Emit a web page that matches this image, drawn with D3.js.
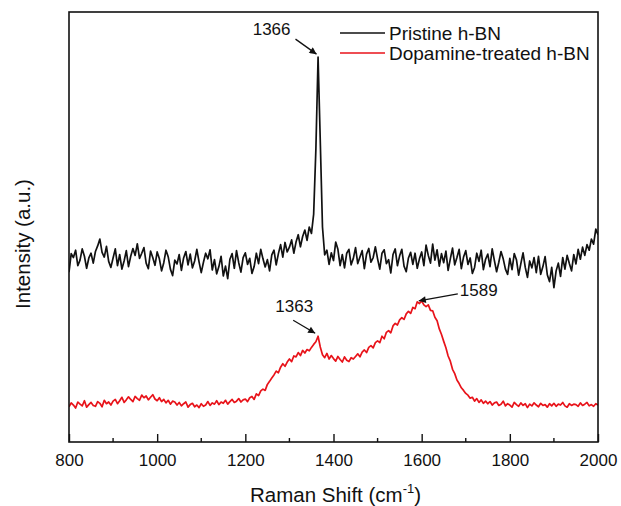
<!DOCTYPE html>
<html><head><meta charset="utf-8">
<script src="https://cdn.jsdelivr.net/npm/d3@7"></script>
<style>
html,body{margin:0;padding:0;background:#fff;}
svg text{font-family:Arial,"Liberation Sans",sans-serif;fill:#111;}
</style></head>
<body><svg id="c" width="621" height="506"></svg>
<script>
// Raman shift grid (cm^-1), every 5 cm^-1 from 800 to 2000
const shiftStart = 800, shiftStep = 5;
const xTicks = [800, 1000, 1200, 1400, 1600, 1800, 2000];
const xMinorTicks = [900, 1100, 1300, 1500, 1700, 1900];
const seriesNames = ["Pristine h-BN", "Dopamine-treated h-BN"];
const seriesColors = ["#111111", "#e8131a"];

const pristine = [
39.5,43.8,42.9,44.6,41.0,42.3,44.9,43.2,40.4,42.8,
43.9,41.6,44.3,45.6,47.2,44.1,43.0,45.5,42.0,40.6,
42.8,44.9,41.0,43.6,40.2,42.1,44.5,40.8,43.2,45.0,
43.4,46.1,42.7,43.9,45.2,41.6,40.3,44.4,42.9,41.1,
44.2,42.6,39.8,41.7,44.6,43.1,40.2,38.7,42.3,41.4,
43.6,39.9,42.8,44.3,41.2,43.7,40.5,42.1,44.8,41.9,
39.4,41.8,43.9,42.6,44.7,40.0,42.4,39.1,40.8,43.2,
38.6,40.9,38.0,42.5,43.8,40.4,44.5,41.7,39.5,42.9,
44.0,41.3,42.7,39.2,40.8,43.9,41.5,44.8,42.6,40.7,
42.4,39.8,43.5,44.6,41.2,43.8,45.9,43.0,46.4,44.2,
45.3,47.0,43.9,46.5,48.2,45.4,47.8,49.3,46.9,50.0,
48.5,53.0,68.0,89.5,70.0,50.0,43.5,44.6,41.3,44.0,
42.2,46.5,44.8,41.0,43.6,40.5,43.9,44.8,41.2,42.7,
45.2,41.5,43.0,44.5,40.3,43.7,45.0,41.8,42.9,45.4,
42.6,40.2,43.9,44.7,41.5,42.4,39.3,43.6,44.9,41.0,
43.3,44.8,40.9,39.6,42.8,44.1,41.3,43.9,40.4,42.6,
44.2,41.0,45.8,43.4,41.6,46.0,42.3,44.7,40.9,43.8,
41.7,44.4,39.9,42.6,45.1,41.2,42.9,44.8,40.3,43.0,
44.5,41.3,42.8,39.2,40.6,43.9,42.0,44.6,40.1,42.5,
43.7,40.8,44.9,42.2,39.6,41.8,44.3,42.6,40.2,39.0,
42.7,40.1,43.8,42.4,38.8,41.5,44.0,40.6,38.3,42.1,
40.5,42.9,39.4,43.2,39.0,40.8,43.1,38.9,37.3,40.6,
35.9,39.8,41.6,38.5,42.9,40.2,43.4,41.5,39.8,43.6,
41.4,44.8,42.5,45.3,43.4,45.9,44.6,47.2,46.0,49.5,
48.2];

const dopamine = [
8.2,9.1,8.6,7.9,9.3,8.8,8.4,9.6,8.1,8.7,
9.2,8.5,8.3,9.4,9.0,8.2,9.7,8.9,9.3,8.6,
9.5,9.9,8.9,9.6,10.4,9.2,9.8,10.5,9.9,9.4,
10.6,10.1,9.7,10.9,10.3,10.7,9.8,10.4,11.0,10.0,
9.6,10.3,9.4,9.9,9.1,9.7,8.8,9.5,9.3,8.6,
9.2,8.4,8.9,9.3,8.1,8.7,9.0,8.2,8.6,8.0,
8.9,8.3,8.6,9.4,8.5,9.1,8.8,9.6,8.7,9.3,
9.0,9.7,8.8,9.4,9.9,9.2,9.5,10.1,9.3,9.8,
10.0,9.4,10.3,10.6,9.9,11.2,10.8,11.9,12.3,12.0,
13.4,14.1,14.9,15.6,16.5,16.1,17.4,18.2,17.6,18.6,
19.3,18.7,20.0,19.8,20.8,20.1,21.3,20.7,21.5,21.2,
22.0,22.7,23.3,24.6,22.1,20.3,19.6,20.6,19.3,20.1,
19.4,18.8,19.9,19.2,18.6,19.8,19.0,18.7,19.6,19.3,
19.9,20.5,19.8,20.9,21.4,20.8,22.0,22.4,21.9,23.1,
23.5,23.1,24.6,24.0,25.5,25.9,25.4,27.0,27.6,27.2,
28.4,28.9,28.5,29.8,30.4,29.9,31.3,31.0,32.6,32.2,
32.8,31.9,31.5,31.9,30.6,30.5,29.0,28.2,26.3,25.0,
23.4,21.9,20.0,18.8,16.9,15.9,14.4,13.6,12.6,12.0,
11.3,10.9,10.2,10.4,9.5,10.1,9.2,9.8,9.0,9.5,
8.9,9.4,8.6,9.1,9.3,8.5,8.8,9.5,8.4,8.9,
8.6,8.1,9.2,8.7,8.3,9.1,8.5,8.9,8.0,8.8,
8.4,9.1,8.6,8.2,9.0,8.5,8.7,8.1,8.9,8.4,
9.0,8.3,8.8,8.6,9.2,8.4,8.1,8.9,8.5,8.8,
8.7,8.3,9.1,8.5,8.8,9.2,8.4,8.7,8.3,8.9,
8.6];

// Peak annotations
const peakLabels = ["1366", "1363", "1589"];
const peakShifts = [1366, 1363, 1589];
const peakSeries = [0, 1, 1];

const svg = d3.select("#c");
const L = 69, R = 598, T = 12, B = 442;
const x = d3.scaleLinear().domain([800, 2000]).range([L, R]);
const y = d3.scaleLinear().domain([0, 100]).range([B, T]);

const defs = svg.append("defs");
defs.append("marker").attr("id", "ah").attr("viewBox", "0 0 10 10")
  .attr("refX", 10).attr("refY", 5).attr("markerWidth", 9).attr("markerHeight", 7)
  .attr("markerUnits", "userSpaceOnUse").attr("orient", "auto")
  .append("path").attr("d", "M0,0L10,5L0,10Z").attr("fill", "#111");
defs.append("clipPath").attr("id", "clip").append("rect")
  .attr("x", L).attr("y", T).attr("width", R - L).attr("height", B - T);

const allSeries = [pristine, dopamine];
const line = d3.line().x((d, i) => x(shiftStart + i * shiftStep)).y(d => y(d));
const g = svg.append("g").attr("clip-path", "url(#clip)");
allSeries.forEach((s, k) => {
  g.append("path").attr("d", line(s)).attr("fill", "none")
    .attr("stroke", seriesColors[k]).attr("stroke-width", 1.7)
    .attr("stroke-linejoin", "round");
});

// frame
svg.append("rect").attr("x", L).attr("y", T).attr("width", R - L).attr("height", B - T)
  .attr("fill", "none").attr("stroke", "#111").attr("stroke-width", 1.6);

// x axis (ticks inward)
const ax = svg.append("g").attr("transform", `translate(0,${B})`)
  .call(d3.axisBottom(x).tickValues(xTicks).tickFormat(d3.format("d"))
    .tickSizeInner(-8).tickSizeOuter(0).tickPadding(12));
ax.select(".domain").remove();
ax.selectAll(".tick line").attr("stroke", "#111").attr("stroke-width", 1.4);
ax.selectAll(".tick text").attr("font-size", 17).attr("fill", "#111")
  .style("font-family", "Arial, 'Liberation Sans', sans-serif");
svg.append("g").selectAll("line").data(xMinorTicks).join("line")
  .attr("x1", d => x(d)).attr("x2", d => x(d)).attr("y1", B).attr("y2", B - 4)
  .attr("stroke", "#111").attr("stroke-width", 1.4);

// axis titles
const xt = svg.append("text").attr("x", (L + R) / 2 + 2).attr("y", 502)
  .attr("text-anchor", "middle").attr("font-size", 20.5);
xt.append("tspan").text("Raman Shift (cm");
xt.append("tspan").text("-1").attr("font-size", 13).attr("dy", -9);
xt.append("tspan").text(")").attr("dy", 9);
svg.append("text").attr("transform", `translate(30,${244}) rotate(-90)`)
  .attr("text-anchor", "middle").attr("font-size", 20.5).text("Intensity (a.u.)");

// legend
const legY = [33, 53];
seriesNames.forEach((n, k) => {
  svg.append("line").attr("x1", 340).attr("x2", 385).attr("y1", legY[k]).attr("y2", legY[k])
    .attr("stroke", seriesColors[k]).attr("stroke-width", 1.4);
  svg.append("text").attr("x", 389).attr("y", legY[k] + 7).attr("font-size", 19).text(n);
});

// peak annotations
function valAt(s, shift) {
  const idx = Math.round((shift - shiftStart) / shiftStep);
  return allSeries[s][idx];
}
const annOff = [ {tx: -28, ty: -22, ax: -23, ay: -18, dx: -2, dy: -3, anchor: "end"},
                 {tx: -4, ty: -24, ax: -24, ay: -16, dx: -2, dy: -3, anchor: "end"},
                 {tx: 43, ty: -6, ax: 41, ay: -8, dx: 2, dy: -1, anchor: "start"} ];
peakLabels.forEach((lab, k) => {
  const px = x(peakShifts[k]), py = y(valAt(peakSeries[k], peakShifts[k]));
  const o = annOff[k];
  svg.append("line").attr("x1", px + o.ax).attr("y1", py + o.ay)
    .attr("x2", px + o.dx).attr("y2", py + o.dy)
    .attr("stroke", "#111").attr("stroke-width", 1.3).attr("marker-end", "url(#ah)");
  svg.append("text").attr("x", px + o.tx).attr("y", py + o.ty)
    .attr("text-anchor", o.anchor).attr("font-size", 17).text(lab);
});
</script></body></html>
